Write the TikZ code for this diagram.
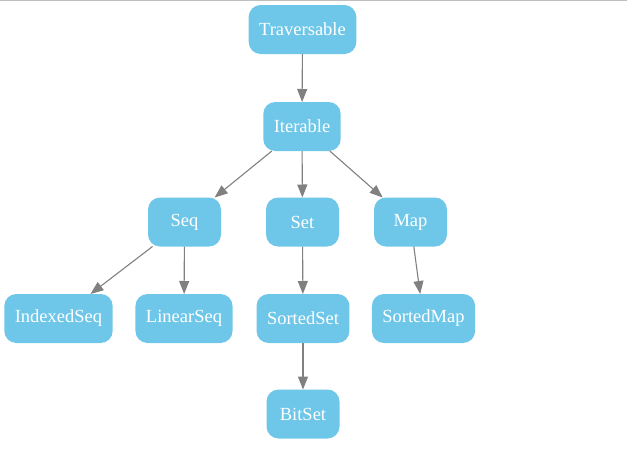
\documentclass[tikz,border=0pt]{standalone}
\usepackage{fontspec}
\setmainfont{Liberation Serif}
\usetikzlibrary{arrows.meta}
\definecolor{boxblue}{RGB}{110,199,232}
\definecolor{edgegrey}{RGB}{128,128,128}
\tikzset{
    cls/.style={rounded corners=12pt,fill=boxblue,text=white,font=\rmfamily\fontsize{18.5}{22}\selectfont,
        minimum height=49pt,minimum width=73pt,inner xsep=10.5pt,outer sep=0},
    inh/.style={draw=edgegrey,line width=1.1pt,-{Triangle[length=13pt,width=10pt]}}
}
\begin{document}
\begin{tikzpicture}[x=1pt,y=-1pt]
    \useasboundingbox (0,0) rectangle (627,474);
    \draw[black!25,line width=1pt] (0,0.5) -- (627,0.5);
    % nodes
    \node[cls] (trav) at (302.5,29.5) {Traversable};
    \node[cls] (iter) at (302,126.5) {Iterable};
    \node[cls] (seq) at (184.5,222) {Seq};
    \node[cls] (set) at (302.5,222) {Set};
    \node[cls] (map) at (410.5,222) {Map};
    \node[cls] (iseq) at (58.5,318.5) {IndexedSeq};
    \node[cls] (lseq) at (184,318.5) {LinearSeq};
    \node[cls] (sset) at (303,318.5) {SortedSet};
    \node[cls] (smap) at (423.5,318.5) {SortedMap};
    \node[cls] (bset) at (303,414) {BitSet};
    % edges
    \draw[inh] (trav) -- (iter);
    \draw[inh] (iter) -- (seq);
    \draw[inh] (iter) -- (set);
    \draw[inh] (iter) -- (map);
    \draw[inh] (seq) -- (iseq);
    \draw[inh] (seq) -- (lseq);
    \draw[inh] (set) -- (sset);
    \draw[inh] (map) -- (smap);
    \draw[inh] (sset) -- (bset);
\end{tikzpicture}
\end{document}
